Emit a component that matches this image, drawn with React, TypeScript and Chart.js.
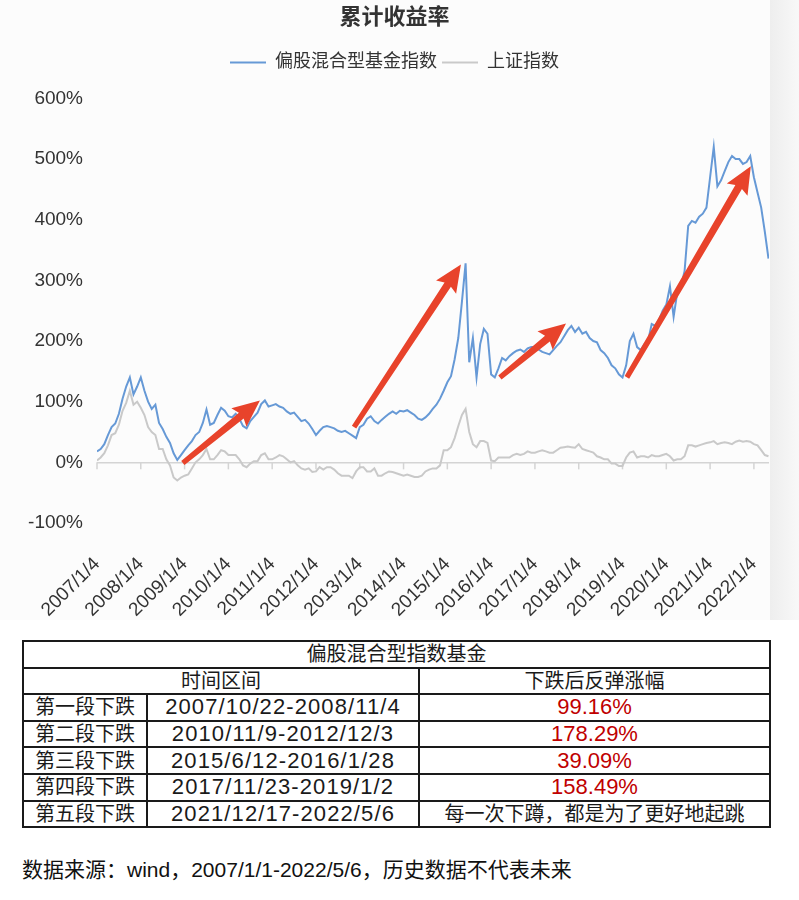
import React, { useEffect, useRef } from 'react';
import { Chart, registerables } from 'chart.js';

Chart.register(...registerables);

// ---------- data ----------
const startYear = 2007;
const yearTicks = [2007, 2008, 2009, 2010, 2011, 2012, 2013, 2014, 2015, 2016, 2017, 2018, 2019, 2020, 2021, 2022];
const xMax = 2022.345; // 2022/5/6

// 偏股混合型基金指数 cumulative return (%) — monthly
const fundMonthly = [
  18, 22, 30, 45, 58, 64, 80, 105, 125, 140, 112, 125, // 2007
  140, 118, 100, 88, 95, 65, 55, 42, 32, 15, 4, 12, // 2008
  20, 28, 35, 45, 50, 65, 87, 62, 65, 78, 90, 85, // 2009
  76, 74, 80, 72, 60, 56, 68, 75, 82, 96, 102, 92, // 2010
  94, 96, 92, 90, 84, 80, 82, 75, 68, 70, 64, 55, // 2011
  45, 52, 58, 60, 58, 56, 52, 50, 52, 48, 44, 40, // 2012
  58, 62, 72, 76, 68, 64, 70, 75, 80, 84, 80, 85, // 2013
  84, 86, 82, 78, 72, 70, 74, 80, 88, 95, 105, 118, // 2014
  132, 142, 170, 205, 265, 328, 165, 205, 140, 195, 220, 212, // 2015
  145, 140, 155, 172, 168, 175, 180, 184, 186, 182, 188, 190, // 2016
  190, 186, 182, 180, 178, 185, 192, 198, 208, 218, 225, 215, // 2017
  222, 212, 215, 205, 200, 198, 185, 180, 172, 160, 155, 145, // 2018
  140, 160, 200, 212, 190, 185, 195, 200, 228, 225, 235, 250, // 2019
  260, 290, 240, 280, 290, 315, 390, 398, 395, 405, 410, 420, // 2020
  470, 520, 455, 465, 480, 495, 505, 500, 500, 492, 495, 505, // 2021
  470, 445, 420, 380, 336, // 2022
];

// 上证指数 cumulative return (%) — monthly
const shMonthly = [
  3, 8, 15, 28, 45, 48, 62, 85, 98, 118, 95, 100, // 2007
  90, 78, 58, 50, 45, 22, 22, 5, -5, -25, -30, -25, // 2008
  -22, -20, -10, 0, 5, 12, 22, 5, 5, 12, 20, 18, // 2009
  12, 12, 12, 5, -5, -8, -2, 2, 2, 12, 15, 5, // 2010
  5, 8, 12, 10, 5, 0, 2, -5, -10, -12, -10, -16, // 2011
  -15, -8, -12, -8, -8, -12, -18, -22, -22, -22, -26, -15, // 2012
  -8, -8, -15, -15, -10, -22, -22, -18, -15, -16, -18, -20, // 2013
  -22, -20, -22, -24, -24, -22, -15, -12, -10, -10, -5, 20, // 2014
  20, 25, 40, 60, 78, 88, 50, 30, 25, 35, 35, 32, // 2015
  3, 2, 8, 8, 8, 8, 12, 14, 12, 14, 18, 16, // 2016
  16, 18, 20, 18, 16, 16, 20, 24, 25, 26, 25, 24, // 2017
  30, 22, 20, 18, 16, 10, 8, 5, 5, -2, -2, -6, // 2018
  -6, 8, 16, 18, 8, 10, 10, 8, 12, 10, 10, 12, // 2019
  14, 10, 3, 5, 5, 10, 28, 28, 26, 28, 30, 32, // 2020
  33, 35, 30, 32, 33, 32, 30, 34, 36, 34, 35, 34, // 2021
  30, 28, 20, 12, 10, // 2022
];

// red arrow annotations (date as decimal year, value in %)
const arrowFromDate = [2008.96, 2012.87, 2016.2, 2019.1];
const arrowFromValue = [-1, 58, 140, 140];
const arrowToDate = [2010.72, 2015.31, 2017.71, 2021.93];
const arrowToValue = [102, 326, 229, 488];

// table
const tableTitle = '偏股混合型指数基金';
const tableHead = ['时间区间', '下跌后反弹涨幅'];
const stageNames = ['第一段下跌', '第二段下跌', '第三段下跌', '第四段下跌', '第五段下跌'];
const stagePeriods = ['2007/10/22-2008/11/4', '2010/11/9-2012/12/3', '2015/6/12-2016/1/28', '2017/11/23-2019/1/2', '2021/12/17-2022/5/6'];
const stageRebounds = ['99.16%', '178.29%', '39.09%', '158.49%', '每一次下蹲，都是为了更好地起跳'];
const footnote = '数据来源：wind，2007/1/1-2022/5/6，历史数据不代表未来';

// ---------- styling ----------
const FONT = '"Liberation Sans", "Noto Sans CJK SC", sans-serif';
const BLUE = '#6699d6';
const GRAY = '#c9c9c9';
const ARROW = '#e8432b';

function drawArrow(ctx: CanvasRenderingContext2D, x1: number, y1: number, x2: number, y2: number) {
  const dx = x2 - x1;
  const dy = y2 - y1;
  const len = Math.hypot(dx, dy);
  const ux = dx / len;
  const uy = dy / len;
  const nx = -uy;
  const ny = ux;
  const headLen = 24;
  const headW = 12;
  const neckW = 3.8;
  const tailW = 2.6;
  const bx = x2 - ux * headLen;
  const by = y2 - uy * headLen;
  ctx.beginPath();
  ctx.moveTo(x1 + nx * tailW, y1 + ny * tailW);
  ctx.lineTo(bx + nx * neckW, by + ny * neckW);
  ctx.lineTo(bx - ux * 3 + nx * headW, by - uy * 3 + ny * headW);
  ctx.lineTo(x2, y2);
  ctx.lineTo(bx - ux * 3 - nx * headW, by - uy * 3 - ny * headW);
  ctx.lineTo(bx - nx * neckW, by - ny * neckW);
  ctx.lineTo(x1 - nx * tailW, y1 - ny * tailW);
  ctx.closePath();
  ctx.fillStyle = ARROW;
  ctx.fill();
}

const legendSpacer = {
  id: 'legendSpacer',
  beforeInit(chart: any) {
    const origFit = chart.legend.fit;
    chart.legend.fit = function fit() {
      origFit.call(this);
      this.height += 17;
    };
  },
};

const overlayPlugin = {
  id: 'overlay',
  beforeDatasetsDraw(chart: any) {
    const { ctx, scales } = chart;
    const x = scales.x;
    const y = scales.y;
    const y0 = y.getPixelForValue(0);
    ctx.save();
    ctx.strokeStyle = '#d4d4d4';
    ctx.lineWidth = 1.5;
    yearTicks.forEach((yr) => {
      const px = x.getPixelForValue(yr);
      ctx.beginPath();
      ctx.moveTo(px, y0);
      ctx.lineTo(px, y0 + 7);
      ctx.stroke();
    });
    ctx.restore();
  },
  afterDatasetsDraw(chart: any) {
    const { ctx, scales } = chart;
    const x = scales.x;
    const y = scales.y;
    ctx.save();
    arrowFromDate.forEach((d, i) => {
      drawArrow(
        ctx,
        x.getPixelForValue(d),
        y.getPixelForValue(arrowFromValue[i]),
        x.getPixelForValue(arrowToDate[i]),
        y.getPixelForValue(arrowToValue[i])
      );
    });
    ctx.restore();
  },
};

function ReturnChart() {
  const ref = useRef<HTMLCanvasElement | null>(null);
  useEffect(() => {
    if (!ref.current) return;
    const chart = new Chart(ref.current, {
      type: 'line',
      data: {
        datasets: [
          {
            label: '偏股混合型基金指数',
            data: fundMonthly.map((v, i) => ({ x: startYear + i / 12, y: v })),
            borderColor: BLUE,
            backgroundColor: BLUE,
            borderWidth: 2,
            pointRadius: 0,
            pointStyle: 'line',
            tension: 0,
          },
          {
            label: '上证指数',
            data: shMonthly.map((v, i) => ({ x: startYear + i / 12, y: v })),
            borderColor: GRAY,
            backgroundColor: GRAY,
            borderWidth: 2,
            pointRadius: 0,
            pointStyle: 'line',
            tension: 0,
          },
        ],
      },
      options: {
        responsive: false,
        animation: false,
        layout: { padding: { left: 20, right: 1, top: 0, bottom: 0 } },
        plugins: {
          title: {
            display: true,
            text: '累计收益率',
            color: '#333',
            font: { size: 22, weight: 'bold', family: FONT },
            padding: { top: 5, bottom: 17 },
          },
          legend: {
            position: 'top',
            labels: {
              usePointStyle: true,
              pointStyleWidth: 36,
              color: '#333',
              font: { size: 18, family: FONT },
              padding: 5,
            },
          },
          tooltip: { enabled: false },
        },
        scales: {
          x: {
            type: 'linear',
            min: startYear,
            max: xMax,
            afterBuildTicks: (axis: any) => {
              axis.ticks = yearTicks.map((v) => ({ value: v }));
            },
            afterFit: (scale: any) => {
              scale.height = 97;
              scale.paddingLeft = 0;
              scale.paddingRight = 0;
            },
            grid: { display: false, drawTicks: false },
            border: { display: false },
            ticks: {
              autoSkip: false,
              minRotation: 45,
              maxRotation: 45,
              padding: 30,
              color: '#333',
              font: { size: 19, family: FONT },
              callback: (v: any) => `${v}/1/4`,
            },
          },
          y: {
            min: -100,
            max: 600,
            border: { display: false },
            afterFit: (scale: any) => {
              scale.width = 77;
            },
            grid: {
              drawTicks: false,
              lineWidth: 1.5,
              color: (c: any) => (c.tick && c.tick.value === 0 ? '#d4d4d4' : 'rgba(0,0,0,0)'),
            },
            ticks: {
              stepSize: 100,
              padding: 14,
              color: '#333',
              font: { size: 19, family: FONT },
              callback: (v: any) => `${v}%`,
            },
          },
        },
      },
      plugins: [legendSpacer, overlayPlugin],
    } as any);
    return () => chart.destroy();
  }, []);
  return <canvas ref={ref} width={770} height={620} style={{ display: 'block', width: 770, height: 620 }} />;
}

const cell: React.CSSProperties = {
  border: '2px solid #1a1a1a',
  padding: 0,
  height: 24.6,
  textAlign: 'center',
  verticalAlign: 'middle',
  lineHeight: '24px',
  whiteSpace: 'nowrap',
};

export default function App() {
  return (
    <div
      style={{
        position: 'absolute',
        left: 0,
        top: 0,
        width: 799,
        height: 900,
        background: '#ffffff',
        fontFamily: FONT,
        color: '#1a1a1a',
        overflow: 'hidden',
      }}
    >
      <div style={{ position: 'absolute', left: 0, top: 0, width: 770, height: 620, background: '#fcfcfc' }}>
        <ReturnChart />
      </div>
      <div
        style={{
          position: 'absolute',
          left: 770,
          top: 0,
          width: 29,
          height: 620,
          background: 'linear-gradient(to right, #eeeeee, #f8f8f8)',
        }}
      />
      <table
        style={{
          position: 'absolute',
          left: 22,
          top: 640,
          width: 747,
          borderCollapse: 'collapse',
          fontSize: 20,
          tableLayout: 'fixed',
        }}
      >
        <colgroup>
          <col style={{ width: 124 }} />
          <col style={{ width: 272 }} />
          <col style={{ width: 351 }} />
        </colgroup>
        <tbody>
          <tr>
            <td style={cell} colSpan={3}>{tableTitle}</td>
          </tr>
          <tr>
            <td style={cell} colSpan={2}>{tableHead[0]}</td>
            <td style={cell}>{tableHead[1]}</td>
          </tr>
          {stageNames.map((name, i) => (
            <tr key={name}>
              <td style={cell}>{name}</td>
              <td style={{ ...cell, fontSize: 22, letterSpacing: '1.1px' }}>{stagePeriods[i]}</td>
              <td style={{ ...cell, fontSize: i < 4 ? 22 : 20, color: i < 4 ? '#c00000' : '#1a1a1a' }}>
                {stageRebounds[i]}
              </td>
            </tr>
          ))}
        </tbody>
      </table>
      <div
        style={{
          position: 'absolute',
          left: 22,
          top: 856,
          fontSize: 21,
          lineHeight: '28px',
          color: '#111',
        }}
      >
        {footnote}
      </div>
    </div>
  );
}
